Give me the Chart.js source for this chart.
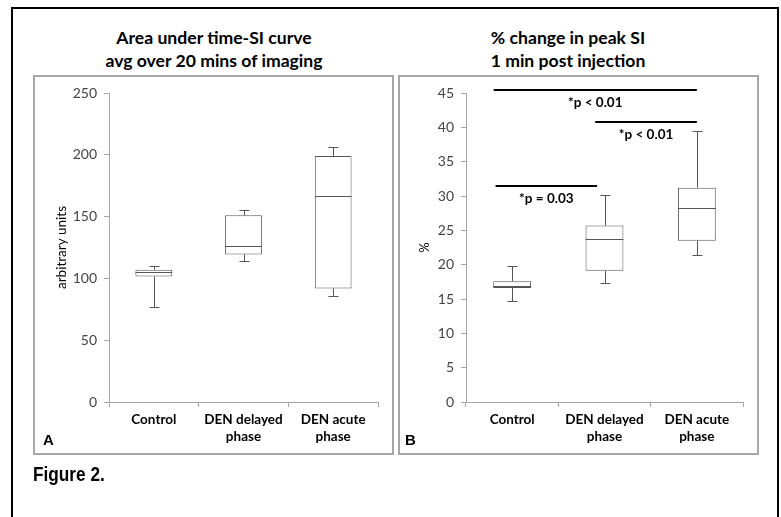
<!DOCTYPE html>
<html lang="en">
<head>
<meta charset="UTF-8">
<title>Figure 2</title>
<script src="https://cdn.jsdelivr.net/npm/chart.js"></script>
<style>
  body { margin: 0; background: #fff; width: 781px; height: 517px; overflow: hidden; position: relative; font-family: Lato, sans-serif; }
  #frame { position: absolute; left: 11px; top: 7px; width: 764px; height: 520px; border: 2px solid #000; }
  .title { position: absolute; top: 26px; width: 300px; text-align: center; font: bold 17.6px/23px Lato, sans-serif; color: #000; }
  .panel { position: absolute; top: 75px; width: 357px; height: 376px; border: 2px solid #a6a6a6; }
  .panel canvas { position: absolute; left: 0; top: 0; }
  .letter { position: absolute; left: 8px; top: 354px; font: bold 15px "Liberation Sans", Arial, sans-serif; }
  #fig { position: absolute; left: 33px; top: 462px; font: bold 21px "Liberation Sans", Arial, sans-serif; transform: scaleX(0.82); transform-origin: 0 0; }
</style>
</head>
<body>
<div id="frame"></div>
<div class="title" style="left:64px">Area under time-SI curve<br>avg over 20 mins of imaging</div>
<div class="title" style="left:418px">% change in peak SI<br>1 min post injection</div>

<div class="panel" style="left:33px">
  <canvas id="chartA" width="357" height="376"></canvas>
  <div class="letter">A</div>
</div>
<div class="panel" style="left:398px">
  <canvas id="chartB" width="357" height="376"></canvas>
  <div class="letter" style="left:5px">B</div>
</div>
<div id="fig">Figure 2.</div>

<script>
const groups = ['Control', ['DEN delayed', 'phase'], ['DEN acute', 'phase']];

// panel A: area under time-SI curve
const aMin    = [77, 113.7, 85.5];
const aQ1     = [101.6, 119.4, 91.9];
const aMedian = [104.8, 126.6, 166.7];
const aQ3     = [107, 151, 199];
const aMax    = [109.7, 155.6, 206.7];

// panel B: % change in peak SI
const bMin    = [14.7, 17.4, 21.4];
const bQ1     = [16.6, 19.1, 23.5];
const bMedian = [16.9, 23.75, 28.3];
const bQ3     = [17.6, 25.7, 31.2];
const bMax    = [19.75, 30.2, 39.5];

// significance bars on panel B (x in category units)
const sigFrom  = [-0.2, 0.9, -0.18];
const sigTo    = [2.0, 2.0, 0.92];
const sigLevel = [45.4, 40.8, 31.5];
const sigText  = ['*p < 0.01', '*p < 0.01', '*p = 0.03'];

Chart.defaults.font.family = 'Lato';
Chart.defaults.animation = false;

const boxColor = '#555';
const axisGray = '#a6a6a6';

const whiskers = {
  id: 'whiskers',
  afterDatasetsDraw(chart, args, opts) {
    const ctx = chart.ctx;
    const y = chart.scales.y;
    const meta = chart.getDatasetMeta(0);
    ctx.save();
    ctx.strokeStyle = boxColor;
    ctx.lineWidth = 1;
    meta.data.forEach((bar, i) => {
      const x = Math.round(bar.x) + 0.5;
      const hw = bar.width / 2;
      const line = (x1, y1, x2, y2) => {
        ctx.beginPath(); ctx.moveTo(x1, y1); ctx.lineTo(x2, y2); ctx.stroke();
      };
      const yMed = Math.round(y.getPixelForValue(opts.median[i])) + 0.5;
      const yLo = Math.round(y.getPixelForValue(opts.min[i])) + 0.5;
      const yHi = Math.round(y.getPixelForValue(opts.max[i])) + 0.5;
      line(bar.x - hw, yMed, bar.x + hw, yMed);
      line(x, y.getPixelForValue(opts.q3[i]), x, yHi);
      line(x, y.getPixelForValue(opts.q1[i]), x, yLo);
      line(x - 5, yHi, x + 5, yHi);
      line(x - 5, yLo, x + 5, yLo);
    });
    ctx.restore();
  }
};

const sigBars = {
  id: 'sigBars',
  afterDraw(chart, args, opts) {
    if (!opts.from) return;
    const ctx = chart.ctx;
    const xs = chart.scales.x, ys = chart.scales.y;
    ctx.save();
    ctx.strokeStyle = '#000';
    ctx.fillStyle = '#000';
    ctx.lineWidth = 2;
    ctx.font = 'bold 13.5px Lato';
    ctx.textAlign = 'center';
    ctx.textBaseline = 'middle';
    opts.from.forEach((f, i) => {
      const x1 = xs.getPixelForValue(f), x2 = xs.getPixelForValue(opts.to[i]);
      const yy = Math.round(ys.getPixelForValue(opts.level[i]));
      ctx.beginPath(); ctx.moveTo(x1, yy); ctx.lineTo(x2, yy); ctx.stroke();
      ctx.fillText(opts.text[i], (x1 + x2) / 2, yy + 13);
    });
    ctx.restore();
  }
};

function makeChart(id, q1, q3, med, lo, hi, yMax, step, yTitle, yWidth, titlePad, titleSize, sig) {
  return new Chart(document.getElementById(id), {
    type: 'bar',
    data: {
      labels: groups,
      datasets: [{
        data: q1.map((v, i) => [v, q3[i]]),
        backgroundColor: '#fff',
        borderColor: boxColor,
        borderWidth: 1,
        borderSkipped: false,
        barPercentage: 0.41,
        categoryPercentage: 1
      }]
    },
    options: {
      responsive: false,
      layout: { padding: { left: 0, right: 14, top: 16, bottom: 0 } },
      plugins: {
        legend: { display: false },
        tooltip: { enabled: false },
        whiskers: { min: lo, q1: q1, median: med, q3: q3, max: hi },
        sigBars: sig || {}
      },
      scales: {
        x: {
          afterFit: s => { s.height = 51; },
          border: { color: axisGray, width: 1 },
          grid: { offset: true, drawOnChartArea: false, drawTicks: true, tickLength: 5, color: axisGray },
          ticks: { color: '#000', font: { size: 13.5, weight: 'bold' }, padding: 5, maxRotation: 0 }
        },
        y: {
          min: 0, max: yMax,
          afterFit: s => { s.width = yWidth; },
          border: { color: axisGray, width: 1 },
          grid: { drawOnChartArea: false, drawTicks: true, tickLength: 5, color: axisGray },
          ticks: { stepSize: step, color: '#444', font: { size: 14 }, padding: 7 },
          title: { display: true, text: yTitle, color: '#000', font: { size: titleSize }, padding: { top: titlePad, bottom: 0 } }
        }
      }
    },
    plugins: [whiskers, sigBars]
  });
}

makeChart('chartA', aQ1, aQ3, aMedian, aMin, aMax, 250, 50, 'arbitrary units', 74, 19, 13.5);
makeChart('chartB', bQ1, bQ3, bMedian, bMin, bMax, 45, 5, '%', 66, 17, 13,
  { from: sigFrom, to: sigTo, level: sigLevel, text: sigText });
</script>
</body>
</html>
